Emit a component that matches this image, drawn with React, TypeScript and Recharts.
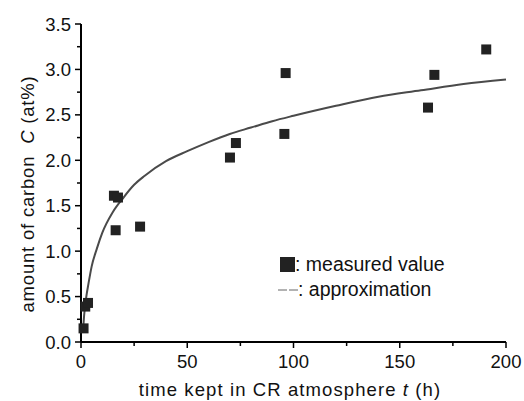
import { ComposedChart, Legend, Line, Scatter, XAxis, YAxis } from 'recharts'

// measured carbon content vs. time in CR atmosphere
const measuredT = [1.2, 2.0, 3.3, 15.5, 17.4, 16.3, 27.8, 70.1, 72.9, 95.7, 96.3, 163.3, 166.3, 190.7]
const measuredC = [0.15, 0.39, 0.43, 1.61, 1.59, 1.23, 1.27, 2.03, 2.19, 2.29, 2.96, 2.58, 2.94, 3.22]

// approximation curve
const approxT = [0.9, 1.5, 2.5, 3.5, 5, 7.5, 10, 15, 20, 25, 30, 40, 50, 60, 70, 80, 90, 100, 120, 140, 160, 180, 200]
const approxC = [0.1, 0.3, 0.5, 0.64, 0.83, 1.03, 1.2, 1.43, 1.59, 1.73, 1.83, 1.99, 2.1, 2.2, 2.29, 2.36, 2.43, 2.49, 2.6, 2.7, 2.77, 2.84, 2.89]

const xTicks = [0, 25, 50, 75, 100, 125, 150, 175, 200]
const yTicks = [0, 0.25, 0.5, 0.75, 1, 1.25, 1.5, 1.75, 2, 2.25, 2.5, 2.75, 3, 3.25, 3.5]
const topTicks = [0, 20, 40, 60, 80, 100, 120, 140, 160, 180, 200]
const rightTicks = [0, 0.35, 0.7, 1.05, 1.4, 1.75, 2.1, 2.45, 2.8, 3.15, 3.5]

const measured = measuredT.map((t, i) => ({ t, c: measuredC[i] }))
const approx = approxT.map((t, i) => ({ t, c: approxC[i] }))

const FONT = '"Liberation Sans", Arial, sans-serif'
const PLOT_LEFT = 81
const PLOT_BOTTOM = 342

const LeftTick = ({ y, payload }: any) => {
  const v = payload.value
  const major = Math.abs(v * 2 - Math.round(v * 2)) < 1e-6
  return (
    <g>
      <line x1={PLOT_LEFT - (major ? 6 : 4)} x2={PLOT_LEFT} y1={y} y2={y} stroke="#000" strokeWidth={1.5} />
      {major && (
        <text x={PLOT_LEFT - 10} y={y + 6.5} textAnchor="end" fontSize={18.5} fontFamily={FONT} fill="#111">
          {v.toFixed(1)}
        </text>
      )}
    </g>
  )
}

const BottomTick = ({ x, payload }: any) => {
  const v = payload.value
  const major = v % 50 === 0
  return (
    <g>
      <line x1={x} x2={x} y1={PLOT_BOTTOM} y2={PLOT_BOTTOM + (major ? 6 : 4)} stroke="#000" strokeWidth={1.5} />
      {major && (
        <text x={x} y={PLOT_BOTTOM + 26} textAnchor="middle" fontSize={18.5} fontFamily={FONT} fill="#111">
          {v}
        </text>
      )}
    </g>
  )
}

const XTitle = () => (
  <text x={290} y={396} textAnchor="middle" fontSize={18.5} fontFamily={FONT} fill="#111" letterSpacing={1.1}>
    time kept in CR atmosphere <tspan fontStyle="italic">t</tspan>{'\u00a0'}(h)
  </text>
)

const YTitle = () => (
  <text
    x={0}
    y={0}
    transform="translate(34, 194) rotate(-90)"
    textAnchor="middle"
    fontSize={18.5}
    fontFamily={FONT}
    fill="#111"
    letterSpacing={0.8}
  >
    amount of carbon{'\u00a0'} <tspan fontStyle="italic">C</tspan> (at%)
  </text>
)

const LegendBox = () => (
  <div style={{ fontFamily: FONT, fontSize: 19.5, color: '#111', lineHeight: '25px' }}>
    <div style={{ display: 'flex', alignItems: 'center' }}>
      <span style={{ display: 'inline-block', width: 15, height: 15, background: '#222', marginLeft: 2 }} />
      <span>: measured value</span>
    </div>
    <div style={{ display: 'flex', alignItems: 'center' }}>
      <svg width={20} height={4}>
        <line x1={0} x2={9} y1={2} y2={2} stroke="#666" strokeWidth={1} />
        <line x1={11} x2={20} y1={2} y2={2} stroke="#666" strokeWidth={1} />
      </svg>
      <span>: approximation</span>
    </div>
  </div>
)

const Square = ({ cx, cy }: any) => <rect x={cx - 5} y={cy - 5} width={10} height={10} fill="#222" />

export default function App() {
  return (
    <div style={{ position: 'absolute', left: 0, top: 0, width: 524, height: 401, background: '#fff' }}>
      <ComposedChart width={524} height={401} margin={{ top: 24, right: 18, bottom: 0, left: 0 }}>
        <XAxis
          xAxisId="b"
          dataKey="t"
          type="number"
          domain={[0, 200]}
          ticks={xTicks}
          interval={0}
          height={59}
          tickLine={false}
          tick={<BottomTick />}
          axisLine={{ stroke: '#000', strokeWidth: 2 }}
          label={<XTitle />}
        />
        <XAxis
          xAxisId="top"
          orientation="top"
          dataKey="t"
          type="number"
          domain={[0, 200]}
          ticks={topTicks}
          interval={0}
          height={0}
          tickSize={3}
          tickFormatter={() => ''}
          tickLine={{ stroke: '#000', strokeWidth: 1.5 }}
          axisLine={{ stroke: '#000', strokeWidth: 2 }}
        />
        <YAxis
          yAxisId="l"
          dataKey="c"
          type="number"
          domain={[0, 3.5]}
          ticks={yTicks}
          interval={0}
          width={81}
          tickLine={false}
          tick={<LeftTick />}
          axisLine={{ stroke: '#000', strokeWidth: 2 }}
          label={<YTitle />}
        />
        <YAxis
          yAxisId="r"
          orientation="right"
          type="number"
          domain={[0, 3.5]}
          ticks={rightTicks}
          interval={0}
          width={0}
          tickSize={3}
          tickFormatter={() => ''}
          tickLine={{ stroke: '#000', strokeWidth: 1.5 }}
          axisLine={{ stroke: '#000', strokeWidth: 2 }}
        />
        <Line
          xAxisId="b"
          yAxisId="l"
          data={approx}
          dataKey="c"
          type="monotone"
          stroke="#4a4a4a"
          strokeWidth={2}
          dot={false}
          isAnimationActive={false}
        />
        <Scatter
          xAxisId="b"
          yAxisId="l"
          data={measured}
          dataKey="c"
          shape={<Square />}
          isAnimationActive={false}
        />
        <Legend
          layout="horizontal"
          verticalAlign="middle"
          align="center"
          content={<LegendBox />}
          wrapperStyle={{ left: 278, top: 252, width: 'auto', height: 'auto' }}
        />
      </ComposedChart>
    </div>
  )
}
